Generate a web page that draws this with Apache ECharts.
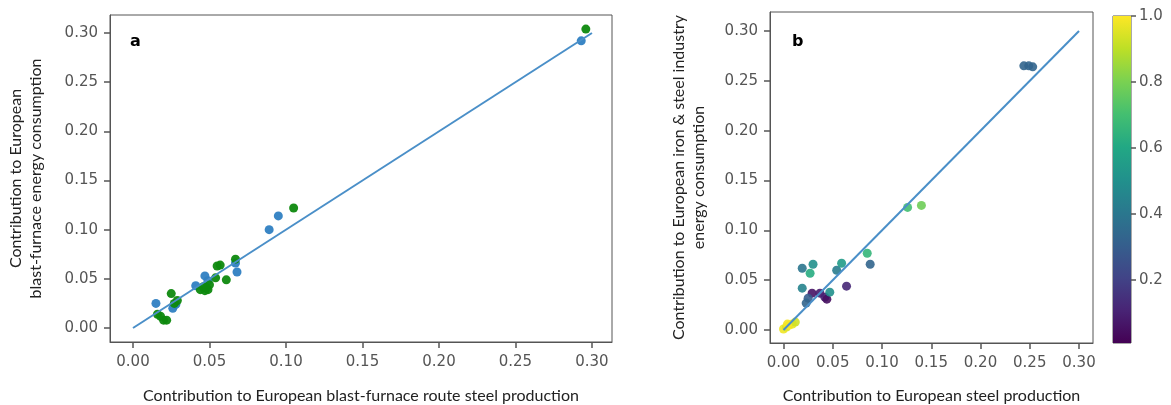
<!DOCTYPE html>
<html>
<head>
<meta charset="utf-8">
<script src="https://cdn.jsdelivr.net/npm/echarts@6/dist/echarts.min.js"></script>
<style>
html,body{margin:0;padding:0;background:#fff;}
#chart{width:1171px;height:405px;}
</style>
</head>
<body>
<div id="chart"></div>
<script>
// ---- data ----
const tickValues = [0, 0.05, 0.10, 0.15, 0.20, 0.25, 0.30];
const colorbarTicks = [0.2, 0.4, 0.6, 0.8, 1.0];
const identityLine = [[0, 0], [0.3, 0.3]];

// panel a: [x, y]
const blueA = [
  [0.015, 0.025], [0.026, 0.020], [0.028, 0.024], [0.041, 0.043],
  [0.047, 0.053], [0.049, 0.048], [0.067, 0.066], [0.068, 0.057],
  [0.089, 0.100], [0.095, 0.114], [0.293, 0.292]
];
const greenA = [
  [0.016, 0.014], [0.018, 0.012], [0.020, 0.008], [0.022, 0.008],
  [0.025, 0.035], [0.027, 0.025], [0.029, 0.028], [0.044, 0.039],
  [0.046, 0.042], [0.047, 0.038], [0.049, 0.039], [0.050, 0.044],
  [0.048, 0.041], [0.054, 0.051], [0.055, 0.063], [0.057, 0.064],
  [0.061, 0.049], [0.067, 0.070], [0.105, 0.122], [0.296, 0.304]
];
// panel b: [x, y, colour value]
const pointsB = [
  [0.000, 0.001, 0.98], [0.003, 0.003, 0.95], [0.006, 0.005, 1.00],
  [0.009, 0.006, 0.97], [0.012, 0.008, 0.93], [0.004, 0.006, 0.99],
  [0.019, 0.062, 0.40], [0.030, 0.066, 0.50], [0.027, 0.057, 0.62],
  [0.019, 0.042, 0.45], [0.029, 0.037, 0.06], [0.025, 0.032, 0.30],
  [0.023, 0.027, 0.33], [0.037, 0.037, 0.08], [0.042, 0.033, 0.10],
  [0.044, 0.031, 0.05], [0.047, 0.038, 0.50], [0.064, 0.044, 0.12],
  [0.054, 0.060, 0.42], [0.059, 0.067, 0.55], [0.085, 0.077, 0.66],
  [0.088, 0.066, 0.33], [0.126, 0.123, 0.70], [0.140, 0.125, 0.78],
  [0.244, 0.265, 0.33], [0.249, 0.265, 0.33], [0.253, 0.264, 0.33]
];
const viridis = ['#440154','#482475','#414487','#355f8d','#2a788e','#21918c','#22a884','#44bf70','#7ad151','#bddf26','#fde725'];

// ---- chart ----
const chart = echarts.init(document.getElementById('chart'), null, {renderer: 'canvas'});
const tickFont = {fontFamily: 'DejaVu Sans', fontSize: 15, color: '#555'};
const nameFont = {fontFamily: 'Lato', fontSize: 16, color: '#222', lineHeight: 20};
const lineCol = '#555';

function valAxis(gridIndex, min, max, margin, extra) {
  return Object.assign({
    type: 'value', gridIndex, min, max,
    splitLine: {show: false},
    axisLine: {show: true, onZero: false, lineStyle: {color: lineCol, width: 1}},
    axisTick: {show: true, inside: false, alignWithLabel: true, customValues: tickValues, length: 6, lineStyle: {color: lineCol, width: 1.5}},
    axisLabel: Object.assign({customValues: tickValues, formatter: v => v.toFixed(2), margin: margin}, tickFont)
  }, extra);
}

const gridBase = {show: true, borderColor: lineCol, borderWidth: 1, containLabel: false, outerBoundsMode: 'none'};

const option = {
  backgroundColor: '#fff',
  animation: false,
  grid: [
    Object.assign({left: 110, top: 15, width: 502, height: 327}, gridBase),
    Object.assign({left: 770, top: 12, width: 323, height: 331}, gridBase),
    Object.assign({left: 1113, top: 16, width: 18, height: 327}, gridBase)
  ],
  xAxis: [
    valAxis(0, -0.01503, 0.3131, 13, {name: 'Contribution to European blast-furnace route steel production', nameLocation: 'middle', nameGap: 44, nameTextStyle: nameFont}),
    valAxis(1, -0.0137, 0.3142, 13, {name: 'Contribution to European steel production', nameLocation: 'middle', nameGap: 43, nameTextStyle: nameFont}),
    {type: 'category', gridIndex: 2, data: ['c'], show: false}
  ],
  yAxis: [
    valAxis(0, -0.01424, 0.3183, 12, {name: 'Contribution to European\nblast-furnace energy consumption', nameLocation: 'middle', nameGap: 64, nameTextStyle: nameFont}),
    valAxis(1, -0.0130, 0.3190, 12, {name: 'Contribution to European iron & steel industry\nenergy consumption', nameLocation: 'middle', nameGap: 61, nameTextStyle: nameFont}),
    {type: 'value', gridIndex: 2, min: 0.01, max: 1.0, position: 'right',
      splitLine: {show: false}, axisLine: {show: false, onZero: false},
      axisTick: {show: true, customValues: colorbarTicks, length: 5, lineStyle: {color: lineCol, width: 1.5}},
      axisLabel: Object.assign({customValues: colorbarTicks, formatter: v => v.toFixed(1), margin: 8}, tickFont)}
  ],
  visualMap: [{
    show: false, type: 'continuous', min: 0.01, max: 1.0, dimension: 2, seriesIndex: 4,
    inRange: {color: viridis}
  }],
  graphic: [
    {type: 'text', left: 130, top: 34, style: {text: 'a', font: 'bold 16px "DejaVu Sans"', fill: '#000'}},
    {type: 'text', left: 792, top: 34, style: {text: 'b', font: 'bold 16px "DejaVu Sans"', fill: '#000'}}
  ],
  series: [
    {type: 'line', xAxisIndex: 0, yAxisIndex: 0, data: identityLine, symbol: 'none',
      lineStyle: {color: '#4a8fc8', width: 2}, z: 3},
    {type: 'scatter', xAxisIndex: 0, yAxisIndex: 0, data: blueA, symbolSize: 9,
      itemStyle: {color: '#2f80c2', opacity: 0.95}, z: 2},
    {type: 'scatter', xAxisIndex: 0, yAxisIndex: 0, data: greenA, symbolSize: 9,
      itemStyle: {color: '#0e890e', opacity: 0.95}, z: 2},
    {type: 'line', xAxisIndex: 1, yAxisIndex: 1, data: identityLine, symbol: 'none',
      lineStyle: {color: '#4a8fc8', width: 2}, z: 3},
    {type: 'scatter', xAxisIndex: 1, yAxisIndex: 1, data: pointsB, symbolSize: 9,
      itemStyle: {opacity: 0.9}, z: 2},
    {type: 'bar', xAxisIndex: 2, yAxisIndex: 2, data: [1.0], barWidth: '100%', silent: true,
      itemStyle: {color: new echarts.graphic.LinearGradient(0, 0, 0, 1,
        viridis.slice().reverse().map((c, i) => ({offset: i / (viridis.length - 1), color: c})))}}
  ]
};
chart.setOption(option);
</script>
</body>
</html>
